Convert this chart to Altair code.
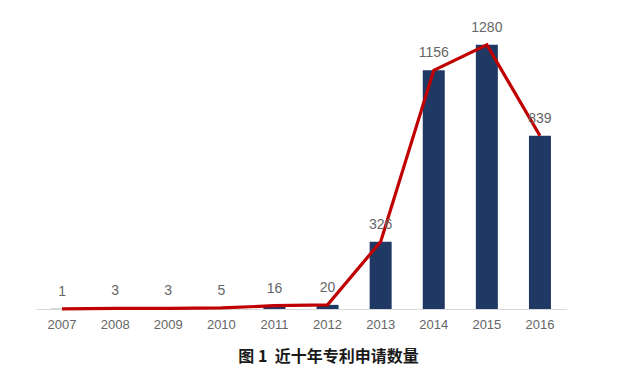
import altair as alt
import pandas as pd

years = ["2007", "2008", "2009", "2010", "2011", "2012", "2013", "2014", "2015", "2016"]
counts = [1, 3, 3, 5, 16, 20, 326, 1156, 1280, 839]
title_text = "图 1\u00a0\u00a0近十年专利申请数量"

df = pd.DataFrame({"year": years, "count": counts})

W, H = 531, 289

x = alt.X("year:N", sort=years,
          scale=alt.Scale(paddingInner=0.58, paddingOuter=0.29),
          axis=alt.Axis(title=None, labelAngle=0, ticks=False, domainColor="#D9D9D9",
                        domainWidth=1, labelColor="#666666", labelFontSize=13,
                        labelFont="Liberation Sans", labelPadding=9, grid=False))
y = alt.Y("count:Q", scale=alt.Scale(domain=[0, 1400], nice=False), axis=None)

base = alt.Chart(df)
bars = base.mark_bar(color="#203864", size=22).encode(x=x, y=y)
line = base.mark_line(color="#C00000", strokeWidth=3.2).encode(x=x, y=y)
labels = base.mark_text(dy=-17, fontSize=14, color="#666666", font="Liberation Sans",
                        baseline="middle").encode(x=x, y=y, text="count:Q")
title = alt.Chart(pd.DataFrame({"t": [title_text]})).mark_text(
    fontSize=16, fontWeight="bold", font="Noto Sans CJK SC", color="#1a1a1a",
    baseline="middle", align="center").encode(
    x=alt.value(293), y=alt.value(337), text="t:N")

chart = alt.layer(bars, line, labels, title).properties(
    width=W, height=H,
    background="white",
    autosize=alt.AutoSizeParams(type="none"),
    padding={"left": 27.5, "top": 12, "right": 60, "bottom": 58},
).configure_view(strokeWidth=0)

chart.save("out.html", embed_options={"renderer": "svg", "actions": False})
